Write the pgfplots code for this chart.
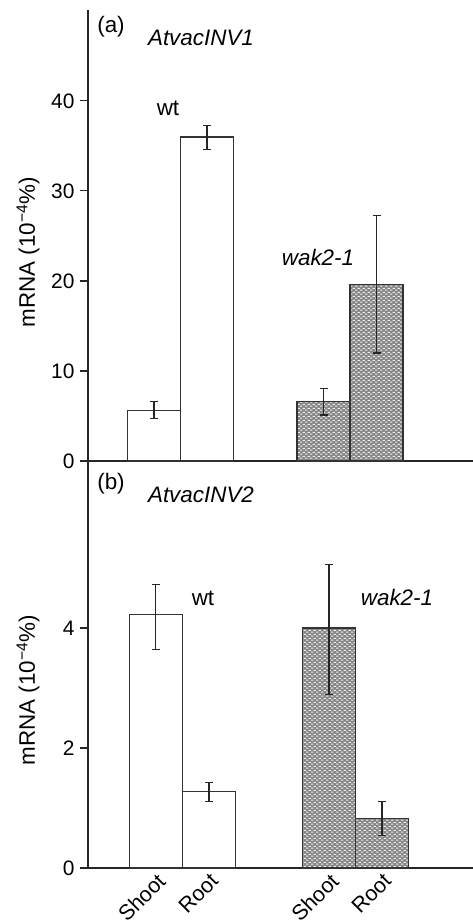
\documentclass[border=0pt]{standalone}
\usepackage{fontspec}
\setmainfont{Liberation Sans}
\usepackage{pgfplots}
\pgfplotsset{compat=1.18}
\usetikzlibrary{patterns}

% staggered short white dashes on grey, like the mutant bars
\pgfdeclarepatternformonly{dashgrid}{\pgfqpoint{0pt}{0pt}}{\pgfqpoint{5.4pt}{4.2pt}}{\pgfqpoint{5.4pt}{4.2pt}}{
  \pgfpathrectangle{\pgfqpoint{0.2pt}{0.5pt}}{\pgfqpoint{2.4pt}{1.0pt}}
  \pgfpathrectangle{\pgfqpoint{2.9pt}{2.6pt}}{\pgfqpoint{2.4pt}{1.0pt}}
  \pgfusepath{fill}
}

\newcommand{\txt}{\fontsize{22.5}{26}\selectfont}
\newcommand{\tck}{\fontsize{21}{24}\selectfont}
\newcommand{\xtl}{\fontsize{21.5}{24}\selectfont}

\pgfplotsset{
  panel/.style={
    scale only axis, width=385bp,
    xmin=0, xmax=385, ymin=0,
    axis x line=bottom, axis y line=left,
    axis line style={-, line width=1.2bp, black!85},
    tick align=outside, major tick length=8bp,
    tick style={line width=1.1bp, black!85},
    ytick pos=left,
    /pgf/number format/assume math mode=true,
    yticklabel style={font=\tck, xshift=-2bp},
    every axis y label/.style={at={(axis description cs:-0.156,0.5)}, rotate=90, anchor=center, font=\txt},
    ybar, bar shift=0pt, bar width=53,
    clip=false,
  },
  ebars/.style={
    error bars/y dir=both, error bars/y explicit,
    error bars/error bar style={line width=1.2bp, black!85},
    error bars/error mark options={rotate=90, mark size=4bp, line width=1.2bp, black!85},
  },
  wtbar/.style={ebars, draw=black!80, line width=1.3bp, fill=white},
  wakbar/.style={ebars, draw=black!80, line width=1.3bp, fill=black!48,
    postaction={pattern=dashgrid, pattern color=black!5}},
}

\begin{document}
\begin{tikzpicture}
\useasboundingbox (-88bp,-55bp) rectangle (385bp,868bp);

%% (b) AtvacINV2
\begin{axis}[panel,
  at={(0,0)}, anchor=south west,
  height=407bp, ymax=6.783,
  ytick={0,2,4},
  xtick={67.8,121,241,294},
  xticklabels={Shoot,Root,Shoot,Root},
  x tick style={draw=none},
  xticklabel style={font=\xtl, rotate=45, anchor=north east, inner sep=1bp, xshift=4bp, yshift=4bp},
  ylabel={mRNA (10\textsuperscript{\char"2212 4}\%)},
  every axis y label/.append style={at={(axis description cs:-0.156,0.437)}},
]
\addplot[wtbar] coordinates {(67.8,4.22) += (0,0.50) -= (0,0.58)
                             (121,1.27) += (0,0.16) -= (0,0.16)};
\addplot[wakbar] coordinates {(241,4.00) += (0,1.06) -= (0,1.11)
                              (294,0.83) += (0,0.28) -= (0,0.29)};
\node[font=\txt] at (axis cs:23,6.40) {(b)};
\node[font=\txt\itshape] at (axis cs:113,6.22) {AtvacINV2};
\node[font=\txt] at (axis cs:115,4.5) {wt};
\node[font=\txt\itshape] at (axis cs:309,4.5) {wak2-1};
\end{axis}

%% (a) AtvacINV1
\begin{axis}[panel,
  at={(0,407bp)}, anchor=south west,
  height=451bp, ymax=50.1,
  ytick={0,10,20,30,40},
  xtick=\empty,
  ylabel={mRNA (10\textsuperscript{\char"2212 4}\%)},
  every axis y label/.append style={at={(axis description cs:-0.156,0.463)}},
]
\addplot[wtbar] coordinates {(66,5.6) += (0,1.0) -= (0,0.86)
                             (119,36.0) += (0,1.3) -= (0,1.4)};
\addplot[wakbar] coordinates {(235.5,6.6) += (0,1.47) -= (0,1.5)
                              (288.5,19.6) += (0,7.7) -= (0,7.6)};
\node[font=\txt] at (axis cs:23,48.2) {(a)};
\node[font=\txt\itshape] at (axis cs:113,47.0) {AtvacINV1};
\node[font=\txt] at (axis cs:80,39.2) {wt};
\node[font=\txt\itshape] at (axis cs:230,22.6) {wak2-1};
\end{axis}
\end{tikzpicture}
\end{document}
